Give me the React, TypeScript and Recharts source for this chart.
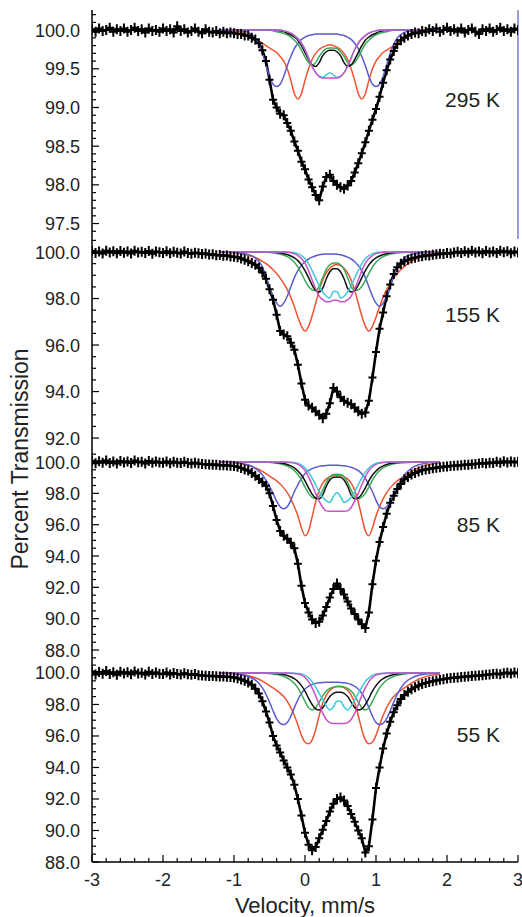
import { ComposedChart, Line, XAxis, YAxis, ReferenceLine } from 'recharts';

// velocity channels of the measured spectra (mm/s)
const velocity = [
  -3, -2.95, -2.9, -2.85, -2.8, -2.75, -2.7, -2.65, -2.6, -2.55,
  -2.5, -2.45, -2.4, -2.35, -2.3, -2.25, -2.2, -2.15, -2.1, -2.05,
  -2, -1.95, -1.9, -1.85, -1.8, -1.75, -1.7, -1.65, -1.6, -1.55,
  -1.5, -1.45, -1.4, -1.35, -1.3, -1.25, -1.2, -1.15, -1.1, -1.05,
  -1, -0.95, -0.9, -0.85, -0.8, -0.75, -0.7, -0.65, -0.6, -0.55,
  -0.5, -0.45, -0.4, -0.35, -0.3, -0.25, -0.2, -0.15, -0.1, -0.05,
  0, 0.05, 0.1, 0.15, 0.2, 0.25, 0.3, 0.35, 0.4, 0.45,
  0.5, 0.55, 0.6, 0.65, 0.7, 0.75, 0.8, 0.85, 0.9, 0.95,
  1, 1.05, 1.1, 1.15, 1.2, 1.25, 1.3, 1.35, 1.4, 1.45,
  1.5, 1.55, 1.6, 1.65, 1.7, 1.75, 1.8, 1.85, 1.9, 1.95,
  2, 2.05, 2.1, 2.15, 2.2, 2.25, 2.3, 2.35, 2.4, 2.45,
  2.5, 2.55, 2.6, 2.65, 2.7, 2.75, 2.8, 2.85, 2.9, 2.95,
  3,
];

// measured transmission (%)
const trans295 = [
  100.01, 99.98, 100.02, 99.99, 100.0, 100.03, 99.98, 100.01, 99.99, 100.02,
  99.98, 100.0, 100.03, 99.99, 100.01, 99.97, 100.02, 99.99, 100.0, 99.98,
  100.02, 99.99, 100.01, 99.97, 100.05, 99.99, 100.01, 99.97, 99.99, 100.02,
  99.98, 99.96, 100.01, 99.98, 99.97, 99.99, 99.96, 99.98, 99.96, 99.97,
  99.96, 99.95, 99.95, 99.93, 99.93, 99.9, 99.88, 99.83, 99.74, 99.6,
  99.36, 99.1, 99.0, 98.92, 98.9, 98.8, 98.7, 98.56, 98.44, 98.3,
  98.2, 98.07, 97.97, 97.87, 97.8, 97.98, 98.1, 98.13, 98.05, 98.0,
  97.97, 97.95, 97.99, 98.05, 98.16, 98.28, 98.41, 98.55, 98.7, 98.84,
  98.98, 99.14, 99.32, 99.48, 99.62, 99.73, 99.82, 99.87, 99.9, 99.93,
  99.95, 99.97, 99.96, 99.99, 99.98, 100.01, 99.99, 100.02, 99.98, 100.0,
  100.03, 99.99, 100.01, 99.98, 100.02, 99.97, 100.0, 100.02, 99.98, 99.95,
  100.01, 99.99, 100.02, 99.98, 100.0, 100.03, 99.99, 100.01, 99.98, 100.02,
  100.0,
];
const trans155 = [
  100.05, 99.96, 100.02, 99.94, 100.06, 99.98, 100.03, 99.95, 100.04, 99.97,
  100.02, 99.94, 100.05, 99.98, 100.01, 99.96, 100.04, 99.93, 100.02, 99.99,
  99.96, 100.03, 99.95, 100.01, 99.97, 99.94, 100.02, 99.96, 99.93, 99.97,
  99.95, 99.91, 99.94, 99.89, 99.9, 99.86, 99.87, 99.84, 99.85, 99.81,
  99.8, 99.77, 99.72, 99.67, 99.6, 99.53, 99.45, 99.32, 99.12, 98.85,
  98.4, 97.95, 97.3, 96.6, 96.45, 96.38, 96.1, 95.8, 95.15, 94.35,
  93.65, 93.4, 93.3, 93.15, 93.0, 92.85, 93.05, 93.5, 94.15, 94.0,
  93.75, 93.6, 93.52, 93.45, 93.3, 93.15, 93.05, 93.1, 93.6, 94.6,
  95.7, 96.7, 97.4, 98.1, 98.6, 99.05, 99.35, 99.5, 99.6, 99.67,
  99.72, 99.75, 99.8, 99.82, 99.86, 99.85, 99.88, 99.9, 99.93, 99.92,
  99.96, 99.94, 99.98, 100.01, 99.96, 100.03, 99.97, 100.05, 99.98, 100.02,
  99.95, 100.04, 99.98, 100.02, 99.96, 100.05, 99.99, 100.03, 99.95, 100.02,
  99.98,
];
const trans85 = [
  100.08, 99.92, 100.05, 99.96, 100.1, 99.94, 100.03, 99.9, 100.06, 99.97,
  100.04, 99.93, 100.09, 99.98, 100.02, 99.91, 100.07, 99.95, 100.03, 99.97,
  99.95, 100.04, 99.92, 100.02, 99.96, 99.93, 100.01, 99.94, 99.9, 99.95,
  99.9, 99.87, 99.85, 99.84, 99.82, 99.83, 99.8, 99.79, 99.78, 99.76,
  99.75, 99.7, 99.62, 99.52, 99.45, 99.3, 99.12, 98.92, 98.7, 98.48,
  98.0, 97.2, 96.3, 95.6, 95.3, 95.1, 94.85, 94.5, 93.5, 92.1,
  91.0, 90.4, 89.95, 89.72, 89.8, 90.2, 90.75, 91.35, 91.9, 92.25,
  91.9, 91.55, 91.1, 90.65, 90.3, 89.95, 89.65, 89.4, 90.4, 92.2,
  93.7, 94.9, 95.85, 96.7, 97.4, 97.85, 98.28, 98.6, 98.9, 99.05,
  99.2, 99.3, 99.4, 99.47, 99.52, 99.56, 99.6, 99.63, 99.66, 99.69,
  99.72, 99.74, 99.76, 99.78, 99.8, 99.82, 99.83, 99.86, 99.88, 99.9,
  99.93, 99.91, 99.96, 99.94, 100.02, 99.95, 100.05, 99.97, 100.03, 99.98,
  100.01,
];
const trans55 = [
  100.1, 99.9, 100.06, 99.95, 100.12, 99.93, 100.04, 99.88, 100.08, 99.96,
  100.05, 99.92, 100.1, 99.97, 100.02, 99.9, 100.07, 99.94, 100.03, 99.95,
  99.93, 100.03, 99.9, 100.0, 99.94, 99.91, 99.98, 99.92, 99.88, 99.93,
  99.86, 99.84, 99.82, 99.81, 99.8, 99.79, 99.78, 99.77, 99.76, 99.74,
  99.72, 99.66, 99.58, 99.5, 99.4, 99.25, 99.0, 98.7, 98.2, 97.55,
  96.85, 96.0, 95.4, 94.95, 94.45, 94.0, 93.55, 92.9, 92.0, 90.95,
  89.85, 89.1, 88.75, 88.95, 89.5, 90.05, 90.6, 91.2, 91.7, 92.0,
  92.1, 91.9, 91.55, 91.05, 90.55, 90.0, 89.5, 88.6, 89.0, 90.7,
  92.7, 94.0, 95.2, 96.15, 96.9, 97.5, 97.95, 98.35, 98.6, 98.8,
  98.97, 99.1, 99.2, 99.3, 99.37, 99.43, 99.48, 99.53, 99.57, 99.6,
  99.65, 99.68, 99.7, 99.72, 99.74, 99.76, 99.78, 99.8, 99.82, 99.84,
  99.86, 99.88, 99.9, 99.93, 99.95, 99.92, 99.98, 100.02, 99.96, 100.03,
  99.98,
];

// velocities of the fitted subspectra
const fitVelocity = [
  -1.2, -1.1, -1, -0.9, -0.8, -0.7,
  -0.65, -0.6, -0.55, -0.5, -0.45, -0.4, -0.35, -0.3, -0.25, -0.2,
  -0.15, -0.1, -0.05, 0, 0.05, 0.1, 0.15, 0.2, 0.25, 0.3,
  0.35, 0.4, 0.45, 0.5, 0.55, 0.6, 0.65, 0.7, 0.75, 0.8,
  0.85, 0.9, 0.95, 1, 1.05, 1.1, 1.15, 1.2, 1.25, 1.3,
  1.4, 1.5, 1.6, 1.7, 1.8, 1.9,
];

// 295 K components
const red295 = [
  100, 100, 99.99, 99.97, 99.94, 99.89,
  99.86, 99.83, 99.8, 99.77, 99.74, 99.71, 99.66, 99.6, 99.5, 99.35,
  99.18, 99.11, 99.18, 99.35, 99.5, 99.62, 99.7, 99.75, 99.78, 99.8,
  99.81, 99.8, 99.78, 99.75, 99.7, 99.62, 99.5, 99.35, 99.18, 99.11,
  99.18, 99.35, 99.5, 99.6, 99.66, 99.71, 99.74, 99.77, 99.8, 99.83,
  99.89, 99.94, 99.97, 99.99, 100, 100,
];
const blue295 = [
  100, 100, 100, 99.99, 99.97, 99.9,
  99.82, 99.7, 99.55, 99.4, 99.3, 99.27, 99.3, 99.4, 99.54, 99.66,
  99.76, 99.83, 99.88, 99.91, 99.93, 99.94, 99.95, 99.95, 99.95, 99.95,
  99.95, 99.95, 99.95, 99.94, 99.93, 99.91, 99.88, 99.83, 99.76, 99.66,
  99.54, 99.4, 99.3, 99.27, 99.3, 99.4, 99.55, 99.7, 99.82, 99.9,
  99.97, 99.99, 100, 100, 100, 100,
];
const green295 = [
  100, 100, 100, 100, 100, 100,
  100, 100, 100, 100, 99.99, 99.98, 99.97, 99.96, 99.94, 99.91,
  99.87, 99.82, 99.74, 99.65, 99.58, 99.55, 99.58, 99.66, 99.72, 99.76,
  99.77, 99.77, 99.76, 99.72, 99.66, 99.58, 99.55, 99.58, 99.65, 99.74,
  99.82, 99.87, 99.91, 99.94, 99.96, 99.97, 99.98, 99.99, 100, 100,
  100, 100, 100, 100, 100, 100,
];
const black295 = [
  100, 100, 100, 100, 100, 100,
  100, 100, 100, 100, 100, 100, 99.99, 99.98, 99.96, 99.94,
  99.91, 99.87, 99.8, 99.71, 99.62, 99.55, 99.53, 99.58, 99.67, 99.72,
  99.74, 99.74, 99.72, 99.67, 99.58, 99.53, 99.55, 99.62, 99.71, 99.8,
  99.87, 99.91, 99.94, 99.96, 99.98, 99.99, 100, 100, 100, 100,
  100, 100, 100, 100, 100, 100,
];
const cyan295 = [
  100, 100, 100, 100, 100, 100,
  100, 100, 100, 100, 100, 100, 100, 99.99, 99.98, 99.96,
  99.93, 99.89, 99.83, 99.75, 99.64, 99.53, 99.45, 99.4, 99.39, 99.42,
  99.45, 99.42, 99.39, 99.4, 99.45, 99.53, 99.64, 99.75, 99.83, 99.89,
  99.93, 99.96, 99.98, 99.99, 100, 100, 100, 100, 100, 100,
  100, 100, 100, 100, 100, 100,
];
const magenta295 = [
  100, 100, 100, 100, 100, 100,
  100, 100, 100, 100, 100, 100, 100, 99.99, 99.98, 99.96,
  99.93, 99.89, 99.83, 99.75, 99.64, 99.53, 99.45, 99.4, 99.38, 99.38,
  99.38, 99.38, 99.38, 99.4, 99.45, 99.53, 99.64, 99.75, 99.83, 99.89,
  99.93, 99.96, 99.98, 99.99, 100, 100, 100, 100, 100, 100,
  100, 100, 100, 100, 100, 100,
];

// 155 K components
const red155 = [
  100, 99.99, 99.97, 99.93, 99.86, 99.76,
  99.69, 99.6, 99.5, 99.38, 99.24, 99.08, 98.88, 98.65, 98.38, 98.05,
  97.65, 97.2, 96.8, 96.6, 96.8, 97.25, 97.8, 98.35, 98.8, 99.1,
  99.3, 99.42, 99.46, 99.42, 99.3, 99.1, 98.8, 98.35, 97.8, 97.25,
  96.8, 96.6, 96.8, 97.2, 97.65, 98.05, 98.38, 98.65, 98.88, 99.08,
  99.38, 99.6, 99.76, 99.86, 99.93, 99.97,
];
const blue155 = [
  100, 99.99, 99.98, 99.95, 99.9, 99.75,
  99.6, 99.35, 98.95, 98.5, 98.1, 97.8, 97.66, 97.8, 98.1, 98.5,
  98.9, 99.2, 99.42, 99.58, 99.7, 99.78, 99.84, 99.88, 99.9, 99.91,
  99.91, 99.91, 99.9, 99.88, 99.84, 99.78, 99.7, 99.58, 99.42, 99.2,
  98.9, 98.5, 98.1, 97.8, 97.66, 97.8, 98.1, 98.5, 98.95, 99.35,
  99.75, 99.9, 99.95, 99.98, 99.99, 100,
];
const green155 = [
  100, 100, 100, 100, 100, 100,
  100, 100, 99.99, 99.98, 99.96, 99.94, 99.91, 99.86, 99.8, 99.7,
  99.56, 99.35, 99.08, 98.78, 98.52, 98.38, 98.35, 98.52, 98.9, 99.25,
  99.45, 99.53, 99.53, 99.45, 99.25, 98.9, 98.52, 98.35, 98.38, 98.52,
  98.78, 99.08, 99.35, 99.56, 99.7, 99.8, 99.86, 99.91, 99.94, 99.96,
  99.98, 99.99, 100, 100, 100, 100,
];
const black155 = [
  100, 100, 100, 100, 100, 100,
  100, 100, 100, 100, 99.99, 99.98, 99.96, 99.93, 99.89, 99.83,
  99.75, 99.63, 99.45, 99.2, 98.9, 98.58, 98.35, 98.28, 98.45, 98.85,
  99.15, 99.28, 99.28, 99.15, 98.85, 98.45, 98.28, 98.35, 98.58, 98.9,
  99.2, 99.45, 99.63, 99.75, 99.83, 99.89, 99.93, 99.96, 99.98, 99.99,
  100, 100, 100, 100, 100, 100,
];
const cyan155 = [
  100, 100, 100, 100, 100, 100,
  100, 100, 100, 100, 100, 100, 100, 100, 100, 99.99,
  99.97, 99.93, 99.85, 99.72, 99.5, 99.2, 98.88, 98.55, 98.28, 98.1,
  98.02, 98.3, 98.3, 98.02, 98.1, 98.28, 98.55, 98.88, 99.2, 99.5,
  99.72, 99.85, 99.93, 99.97, 99.99, 100, 100, 100, 100, 100,
  100, 100, 100, 100, 100, 100,
];
const magenta155 = [
  100, 100, 100, 100, 100, 100,
  100, 100, 100, 100, 100, 100, 100, 100, 99.99, 99.97,
  99.93, 99.85, 99.72, 99.52, 99.2, 98.8, 98.42, 98.1, 97.95, 97.86,
  97.86, 97.93, 97.93, 97.86, 97.86, 97.95, 98.1, 98.42, 98.8, 99.2,
  99.52, 99.72, 99.85, 99.93, 99.97, 99.99, 100, 100, 100, 100,
  100, 100, 100, 100, 100, 100,
];

// 85 K components
const red85 = [
  100, 99.98, 99.95, 99.88, 99.78, 99.62,
  99.52, 99.4, 99.26, 99.1, 98.95, 98.8, 98.6, 98.35, 98.05, 97.65,
  97.15, 96.55, 95.8, 95.3, 95.6, 96.5, 97.45, 98.2, 98.65, 98.92,
  99.06, 99.13, 99.15, 99.13, 99.06, 98.92, 98.65, 98.2, 97.45, 96.5,
  95.6, 95.3, 95.8, 96.55, 97.15, 97.65, 98.05, 98.35, 98.6, 98.8,
  99.1, 99.4, 99.62, 99.78, 99.88, 99.95,
];
const blue85 = [
  100, 99.99, 99.97, 99.92, 99.82, 99.6,
  99.42, 99.18, 98.85, 98.45, 98.0, 97.5, 97.15, 97.02, 97.15, 97.55,
  98.1, 98.55, 98.95, 99.25, 99.45, 99.58, 99.66, 99.72, 99.76, 99.78,
  99.79, 99.8, 99.79, 99.78, 99.76, 99.72, 99.66, 99.58, 99.45, 99.25,
  98.95, 98.55, 98.1, 97.55, 97.15, 97.02, 97.15, 97.5, 98.0, 98.45,
  99.18, 99.6, 99.82, 99.92, 99.97, 99.99,
];
const green85 = [
  100, 100, 100, 100, 100, 100,
  100, 100, 99.99, 99.97, 99.95, 99.92, 99.88, 99.82, 99.74, 99.62,
  99.45, 99.2, 98.85, 98.4, 98.0, 97.75, 97.65, 97.8, 98.2, 98.7,
  99.05, 99.2, 99.22, 99.2, 99.05, 98.7, 98.2, 97.8, 97.65, 97.75,
  98.0, 98.4, 98.85, 99.2, 99.45, 99.62, 99.74, 99.82, 99.88, 99.92,
  99.96, 99.99, 100, 100, 100, 100,
];
const black85 = [
  100, 100, 100, 100, 100, 100,
  100, 100, 100, 100, 99.99, 99.97, 99.94, 99.9, 99.84, 99.75,
  99.62, 99.43, 99.17, 98.8, 98.35, 97.95, 97.7, 97.65, 97.9, 98.45,
  98.85, 99.02, 99.05, 99.02, 98.85, 98.45, 97.9, 97.65, 97.7, 97.95,
  98.35, 98.8, 99.17, 99.43, 99.62, 99.75, 99.84, 99.9, 99.94, 99.97,
  99.99, 100, 100, 100, 100, 100,
];
const cyan85 = [
  100, 100, 100, 100, 100, 100,
  100, 100, 100, 100, 100, 100, 100, 100, 99.99, 99.98,
  99.95, 99.9, 99.8, 99.62, 99.35, 98.98, 98.55, 98.1, 97.75, 97.52,
  97.42, 97.8, 98.05, 97.8, 97.42, 97.52, 97.75, 98.1, 98.55, 98.98,
  99.35, 99.62, 99.8, 99.9, 99.95, 99.98, 99.99, 100, 100, 100,
  100, 100, 100, 100, 100, 100,
];
const magenta85 = [
  100, 100, 100, 100, 100, 100,
  100, 100, 100, 100, 100, 100, 100, 100, 99.99, 99.97,
  99.93, 99.85, 99.7, 99.45, 99.05, 98.55, 98.0, 97.5, 97.1, 96.88,
  96.85, 96.85, 96.85, 96.85, 96.85, 96.88, 97.1, 97.5, 98.0, 98.55,
  99.05, 99.45, 99.7, 99.85, 99.93, 99.97, 99.99, 100, 100, 100,
  100, 100, 100, 100, 100, 100,
];

// 55 K components
const red55 = [
  99.99, 99.98, 99.95, 99.91, 99.83, 99.7,
  99.6, 99.48, 99.35, 99.2, 99.05, 98.9, 98.72, 98.5, 98.2, 97.8,
  97.3, 96.7, 96.05, 95.6, 95.5, 95.75, 96.4, 97.3, 98.1, 98.6,
  98.9, 99.07, 99.15, 99.15, 99.07, 98.9, 98.6, 98.1, 97.3, 96.4,
  95.75, 95.5, 95.6, 96.05, 96.7, 97.3, 97.8, 98.2, 98.5, 98.72,
  99.05, 99.35, 99.6, 99.77, 99.87, 99.93,
];
const blue55 = [
  100, 99.99, 99.96, 99.9, 99.78, 99.55,
  99.35, 99.05, 98.65, 98.15, 97.6, 97.1, 96.8, 96.72, 96.85, 97.25,
  97.8, 98.3, 98.7, 98.98, 99.15, 99.27, 99.34, 99.38, 99.4, 99.41,
  99.41, 99.41, 99.41, 99.4, 99.38, 99.34, 99.27, 99.15, 98.98, 98.7,
  98.3, 97.8, 97.25, 96.85, 96.72, 96.8, 97.1, 97.6, 98.15, 98.65,
  99.35, 99.67, 99.85, 99.93, 99.97, 99.99,
];
const green55 = [
  100, 100, 100, 100, 100, 100,
  100, 99.99, 99.98, 99.96, 99.93, 99.9, 99.85, 99.78, 99.68, 99.54,
  99.33, 99.05, 98.65, 98.2, 97.8, 97.65, 97.8, 98.15, 98.55, 98.85,
  99.02, 99.1, 99.12, 99.12, 99.1, 99.02, 98.85, 98.55, 98.15, 97.8,
  97.65, 97.8, 98.2, 98.65, 99.05, 99.33, 99.54, 99.68, 99.78, 99.85,
  99.93, 99.98, 100, 100, 100, 100,
];
const black55 = [
  100, 100, 100, 100, 100, 100,
  100, 100, 100, 100, 99.99, 99.97, 99.94, 99.9, 99.84, 99.76,
  99.64, 99.46, 99.2, 98.85, 98.4, 98.0, 97.72, 97.65, 97.8, 98.15,
  98.5, 98.7, 98.77, 98.77, 98.7, 98.5, 98.15, 97.8, 97.65, 97.72,
  98.0, 98.4, 98.85, 99.2, 99.46, 99.64, 99.76, 99.84, 99.9, 99.94,
  99.99, 100, 100, 100, 100, 100,
];
const cyan55 = [
  100, 100, 100, 100, 100, 100,
  100, 100, 100, 100, 100, 100, 100, 100, 100, 100,
  99.99, 99.97, 99.93, 99.85, 99.7, 99.45, 99.1, 98.7, 98.3, 97.9,
  97.65, 97.85, 98.2, 98.2, 97.85, 97.65, 97.9, 98.3, 98.7, 99.1,
  99.45, 99.7, 99.85, 99.93, 99.97, 99.99, 100, 100, 100, 100,
  100, 100, 100, 100, 100, 100,
];
const magenta55 = [
  100, 100, 100, 100, 100, 100,
  100, 100, 100, 100, 100, 100, 100, 100, 100, 99.99,
  99.97, 99.93, 99.86, 99.72, 99.45, 99.05, 98.55, 98.0, 97.45, 97.05,
  96.85, 96.8, 96.8, 96.8, 96.8, 96.85, 97.05, 97.45, 98.0, 98.55,
  99.05, 99.45, 99.72, 99.86, 99.93, 99.97, 99.99, 100, 100, 100,
  100, 100, 100, 100, 100, 100,
];

// axis ticks
const xMajor = [-3, -2, -1, 0, 1, 2, 3];
const xMinor = [
  -2.8, -2.6, -2.4, -2.2, -1.8, -1.6, -1.4, -1.2, -0.8, -0.6, -0.4, -0.2,
  0.2, 0.4, 0.6, 0.8, 1.2, 1.4, 1.6, 1.8, 2.2, 2.4, 2.6, 2.8,
];
const yMajor295 = [97.5, 98, 98.5, 99, 99.5, 100];
const yMinor295 = [
  97.4, 97.6, 97.7, 97.8, 97.9, 98.1, 98.2, 98.3, 98.4, 98.6, 98.7, 98.8,
  98.9, 99.1, 99.2, 99.3, 99.4, 99.6, 99.7, 99.8, 99.9, 100.1, 100.2,
];
const yMajor155 = [92, 94, 96, 98, 100];
const yMinor155 = [92.5, 93, 93.5, 94.5, 95, 95.5, 96.5, 97, 97.5, 98.5, 99, 99.5, 100.5];
const yMajorLow = [88, 90, 92, 94, 96, 98, 100];
const yMinor85 = [
  87.5, 88.5, 89, 89.5, 90.5, 91, 91.5, 92.5, 93, 93.5, 94.5, 95, 95.5,
  96.5, 97, 97.5, 98.5, 99, 99.5, 100.5,
];
const yMinor55 = [
  88.5, 89, 89.5, 90.5, 91, 91.5, 92.5, 93, 93.5, 94.5, 95, 95.5,
  96.5, 97, 97.5, 98.5, 99, 99.5, 100.5,
];

const FONT = '"Liberation Sans", Arial, Helvetica, sans-serif';
const TEXT = '#222';
const PLOT_LEFT = 92;
const Y_AXIS_W = 60;
const Y_LABEL_GAP = 12;
const X_LABEL_GAP = 8;
const PAD_TOP = 2;
const TICK_FONT = 18;

const COLORS = {
  red: '#ef5330',
  blue: '#5a5ad2',
  green: '#3aaa58',
  black: '#111111',
  cyan: '#3ec8d8',
  magenta: '#c852c6',
};

type Fits = {
  red: number[];
  blue: number[];
  green: number[];
  black: number[];
  cyan: number[];
  magenta: number[];
};

interface PanelProps {
  top: number;
  plotHeight: number;
  domain: [number, number];
  yMajor: number[];
  yMinor: number[];
  measured: number[];
  fits: Fits;
  axis: 'top' | 'none' | 'bottom';
  edgeColor?: string;
}

// measured points are drawn as "+" marks
const plus = (props: any) => {
  const { cx, cy, index } = props;
  if (cx == null || cy == null) return <g key={`p${index}`} />;
  return (
    <path
      key={`p${index}`}
      d={`M${cx - 4},${cy}H${cx + 4}M${cx},${cy - 5}V${cy + 5}`}
      stroke="#000"
      strokeWidth={2}
      fill="none"
    />
  );
};

const topTick = (props: any) => {
  const { x, y, payload } = props;
  const major = xMajor.includes(payload.value);
  return <line x1={x} x2={x} y1={y} y2={y + (major ? 7 : 4)} stroke="#000" strokeWidth={1.2} />;
};

const bottomTick = (props: any) => {
  const { x, y, payload } = props;
  const ay = y - X_LABEL_GAP;
  const major = xMajor.includes(payload.value);
  return (
    <g>
      <line x1={x} x2={x} y1={ay} y2={ay - (major ? 7 : 4)} stroke="#000" strokeWidth={1.2} />
      {major && (
        <text x={x} y={ay + 24} textAnchor="middle" fontSize={TICK_FONT} fill={TEXT}>
          {payload.value}
        </text>
      )}
    </g>
  );
};

function Panel(p: PanelProps) {
  const fitRows = fitVelocity.map((v, i) => ({
    v,
    red: p.fits.red[i],
    blue: p.fits.blue[i],
    green: p.fits.green[i],
    black: p.fits.black[i],
    cyan: p.fits.cyan[i],
    magenta: p.fits.magenta[i],
  }));
  const dataRows = velocity.map((v, i) => ({ v, t: p.measured[i] }));
  const bottomH = p.axis === 'bottom' ? 55 : 0;

  const yTick = (props: any) => {
    const { x, y, payload } = props;
    const ax = x + Y_LABEL_GAP;
    const major = p.yMajor.includes(payload.value);
    return (
      <g>
        <line x1={ax} x2={ax + (major ? 7 : 4)} y1={y} y2={y} stroke="#000" strokeWidth={1.2} />
        {major && (
          <text x={x} y={y} dy={6.5} textAnchor="end" fontSize={TICK_FONT} fill={TEXT}>
            {payload.value.toFixed(1)}
          </text>
        )}
      </g>
    );
  };

  return (
    <div style={{ position: 'absolute', left: 0, top: p.top - PAD_TOP }}>
      <ComposedChart
        width={522}
        height={PAD_TOP + p.plotHeight + bottomH}
        data={fitRows}
        margin={{ top: PAD_TOP, right: 4, bottom: 0, left: PLOT_LEFT - Y_AXIS_W }}
      >
        {p.axis === 'top' && (
          <XAxis
            type="number"
            dataKey="v"
            orientation="top"
            domain={[-3, 3]}
            allowDataOverflow
            ticks={[...xMinor, ...xMajor]}
            interval={0}
            height={0}
            tickSize={0}
            tickMargin={0}
            tickLine={false}
            tick={topTick}
            axisLine={{ stroke: '#000', strokeWidth: 1.5 }}
          />
        )}
        {p.axis === 'none' && (
          <XAxis type="number" dataKey="v" domain={[-3, 3]} allowDataOverflow hide />
        )}
        {p.axis === 'bottom' && (
          <XAxis
            type="number"
            dataKey="v"
            domain={[-3, 3]}
            allowDataOverflow
            ticks={[...xMinor, ...xMajor]}
            interval={0}
            height={bottomH}
            tickSize={0}
            tickMargin={X_LABEL_GAP}
            tickLine={false}
            tick={bottomTick}
            axisLine={{ stroke: '#000', strokeWidth: 1.5 }}
            label={{ value: 'Velocity, mm/s', position: 'insideBottom', offset: 4, fontSize: 22, fill: TEXT }}
          />
        )}
        <YAxis
          type="number"
          domain={p.domain}
          allowDataOverflow
          ticks={[...p.yMinor, ...p.yMajor]}
          interval={0}
          width={Y_AXIS_W}
          tickSize={0}
          tickMargin={Y_LABEL_GAP}
          tickLine={false}
          tick={yTick}
          axisLine={{ stroke: '#000', strokeWidth: 1.5 }}
        />
        {p.edgeColor && <ReferenceLine x={3} stroke={p.edgeColor} strokeWidth={1.5} />}
        <Line
          data={dataRows}
          dataKey="t"
          type="linear"
          stroke="#000"
          strokeWidth={2.6}
          dot={plus}
          activeDot={false}
          isAnimationActive={false}
        />
        {(['red', 'blue', 'green', 'black', 'cyan', 'magenta'] as const).map((k) => (
          <Line
            key={k}
            dataKey={k}
            type="monotone"
            stroke={COLORS[k]}
            strokeWidth={1.5}
            dot={false}
            activeDot={false}
            isAnimationActive={false}
          />
        ))}
      </ComposedChart>
    </div>
  );
}

const panelLabels = [
  { text: '295 K', y: 100 },
  { text: '155 K', y: 315 },
  { text: '85 K', y: 525 },
  { text: '55 K', y: 735 },
];

export default function App() {
  return (
    <div
      style={{
        position: 'absolute',
        left: 0,
        top: 0,
        width: 522,
        height: 917,
        background: '#fff',
        fontFamily: FONT,
        overflow: 'hidden',
      }}
    >
      <Panel
        top={10}
        plotHeight={229}
        domain={[97.3, 100.26]}
        yMajor={yMajor295}
        yMinor={yMinor295}
        measured={trans295}
        fits={{ red: red295, blue: blue295, green: green295, black: black295, cyan: cyan295, magenta: magenta295 }}
        axis="top"
        edgeColor="#7b7bcf"
      />
      <Panel
        top={239}
        plotHeight={210}
        domain={[91.53, 100.56]}
        yMajor={yMajor155}
        yMinor={yMinor155}
        measured={trans155}
        fits={{ red: red155, blue: blue155, green: green155, black: black155, cyan: cyan155, magenta: magenta155 }}
        axis="none"
      />
      <Panel
        top={449}
        plotHeight={212}
        domain={[87.3, 100.83]}
        yMajor={yMajorLow}
        yMinor={yMinor85}
        measured={trans85}
        fits={{ red: red85, blue: blue85, green: green85, black: black85, cyan: cyan85, magenta: magenta85 }}
        axis="none"
      />
      <Panel
        top={661}
        plotHeight={201}
        domain={[88, 100.76]}
        yMajor={yMajorLow}
        yMinor={yMinor55}
        measured={trans55}
        fits={{ red: red55, blue: blue55, green: green55, black: black55, cyan: cyan55, magenta: magenta55 }}
        axis="bottom"
      />
      {panelLabels.map((l) => (
        <div
          key={l.text}
          style={{
            position: 'absolute',
            left: 380,
            width: 120,
            top: l.y - 12,
            lineHeight: '24px',
            textAlign: 'right',
            fontSize: 21,
            color: TEXT,
          }}
        >
          {l.text}
        </div>
      ))}
      <div
        style={{
          position: 'absolute',
          left: 20,
          top: 459,
          transform: 'translate(-50%, -50%) rotate(-90deg)',
          whiteSpace: 'nowrap',
          fontSize: 23,
          color: TEXT,
        }}
      >
        Percent Transmission
      </div>
    </div>
  );
}
